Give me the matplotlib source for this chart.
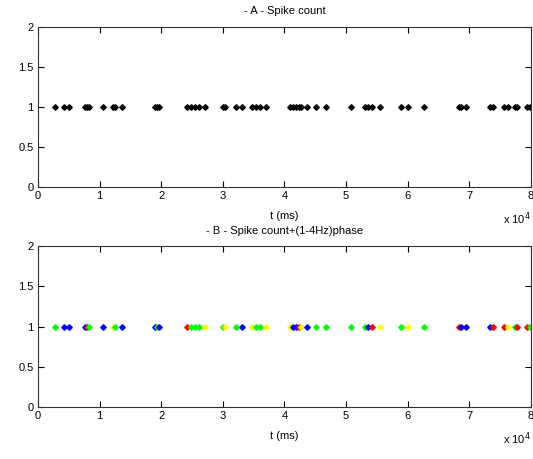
import matplotlib
matplotlib.use('Agg')
import matplotlib.pyplot as plt
from matplotlib.ticker import FuncFormatter

# spike times (ms)
spike_times = [2700, 4300, 5000, 7700, 8000, 8300, 10550, 12200, 12500, 13700,
               19000, 19300, 19600, 24200, 24900, 25500, 26200, 27100,
               30000, 30400, 32200, 33100, 34700, 35400, 36100, 37000,
               40900, 41400, 41900, 42300, 42700, 43600, 45100, 46800, 50800,
               53100, 53600, 54200, 55500, 59000, 60000, 62600,
               68300, 68700, 69400, 73300, 73800, 75700, 76300, 77400, 77800,
               79300, 79900]
# phase colour class of each spike (panel B)
phase_colors = ['g', 'b', 'b', 'b', 'r', 'g', 'b', 'y', 'g', 'b',
                'b', 'g', 'b', 'r', 'g', 'g', 'g', 'y',
                'g', 'y', 'g', 'b', 'y', 'g', 'g', 'y',
                'y', 'b', 'b', 'r', 'y', 'b', 'g', 'g', 'g',
                'g', 'b', 'r', 'y', 'g', 'y', 'g',
                'r', 'b', 'b', 'b', 'r', 'r', 'y', 'g', 'r',
                'r', 'g']
color_map = {'r': '#ff0000', 'g': '#00ff00', 'b': '#0000ff', 'y': '#ffff00'}

titles = ['- A - Spike count', '- B - Spike count+(1-4Hz)phase']
yticks = [0, 0.5, 1, 1.5, 2]
xticks = [0, 10000, 20000, 30000, 40000, 50000, 60000, 70000, 80000]

plt.rcParams['font.family'] = ['Liberation Sans', 'DejaVu Sans']
plt.rcParams['font.size'] = 8

fig = plt.figure(figsize=(5.33, 4.59), dpi=100)
ax_a = fig.add_axes([0.0713, 0.5926, 0.9247, 0.3486])
ax_b = fig.add_axes([0.0713, 0.1133, 0.9247, 0.3507])

for i, ax in enumerate([ax_a, ax_b]):
    if i == 0:
        cols = ['black'] * len(spike_times)
    else:
        cols = [color_map[c] for c in phase_colors]
    for t, c in zip(spike_times, cols):
        ax.plot(t, 1, marker='D', markersize=2.8, color=c, markeredgecolor=c,
                linestyle='none', clip_on=True)
    ax.set_xlim(0, 80000)
    ax.set_ylim(0, 2)
    ax.set_xticks(xticks)
    ax.set_yticks(yticks)
    ax.xaxis.set_major_formatter(FuncFormatter(lambda v, p: '%g' % (v / 10000)))
    ax.yaxis.set_major_formatter(FuncFormatter(lambda v, p: '%g' % v))
    ax.tick_params(direction='in', top=True, right=True, length=4, width=0.8,
                   labelsize=8, pad=3)
    for sp in ax.spines.values():
        sp.set_linewidth(0.8)
        sp.set_color('#333333')
    ax.set_title(titles[i], fontsize=8, pad=9)
    ax.set_xlabel('t (ms)', fontsize=8, labelpad=7)
    ax.text(1.0, -0.2, 'x 10$^4$', transform=ax.transAxes, ha='right',
            va='center', fontsize=8)

fig.savefig('out.png', dpi=100)
